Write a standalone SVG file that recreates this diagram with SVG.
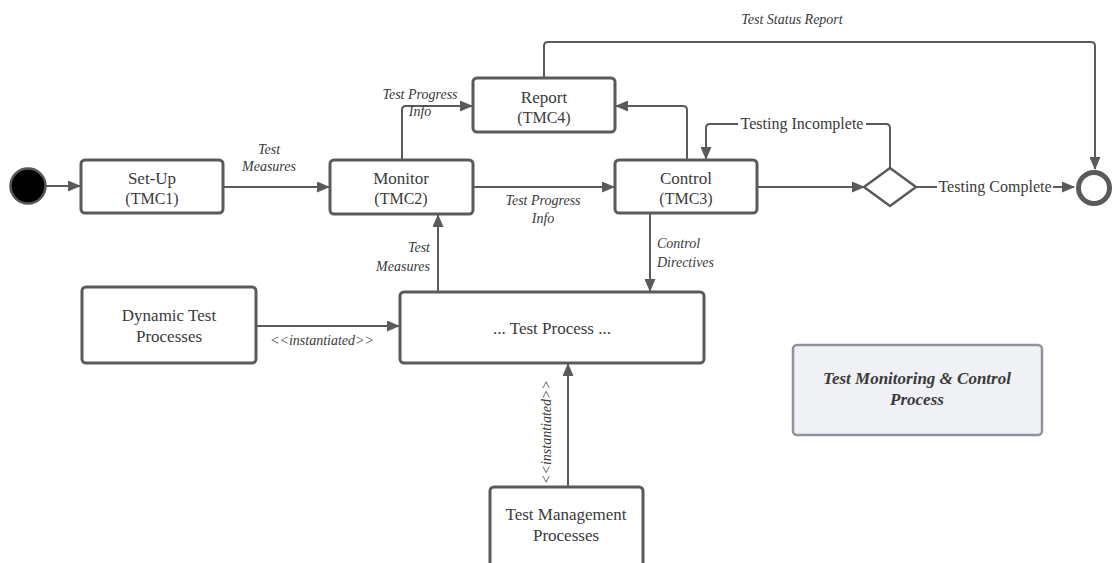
<svg xmlns="http://www.w3.org/2000/svg" width="1112" height="563" viewBox="0 0 1112 563">
  <style>
    .box { fill: #ffffff; stroke: #5a5a5a; stroke-width: 3; }
    .legend { fill: #f0f1f4; stroke: #8e939b; stroke-width: 2.5; }
    .edge { fill: none; stroke: #5a5a5a; stroke-width: 2; stroke-linejoin: round; }
    .nt { font-family: "Liberation Serif", "DejaVu Serif", serif; font-size: 17px; fill: #3a3a3a; text-anchor: middle; }
    .sub { font-size: 16px; }
    .lt { font-family: "Liberation Serif", "DejaVu Serif", serif; font-size: 14px; font-style: italic; fill: #3a3a3a; }
    .gt { font-family: "Liberation Serif", "DejaVu Serif", serif; font-size: 16px; fill: #3a3a3a; }
  </style>
  <defs>
    <marker id="arrow" viewBox="0 0 13 11" refX="12" refY="5.5" markerWidth="13" markerHeight="11" markerUnits="userSpaceOnUse" orient="auto">
      <path d="M0,0 L13,5.5 L0,11 Z" fill="#5a5a5a"/>
    </marker>
  </defs>

  <!-- connectors -->
  <g id="connectors">
    <path class="edge" d="M46,186 H80" marker-end="url(#arrow)"/>
    <path class="edge" d="M223,187 H329" marker-end="url(#arrow)"/>
    <path class="edge" d="M402,160 V110 Q402,106 406,106 H472" marker-end="url(#arrow)"/>
    <path class="edge" d="M473,187 H614" marker-end="url(#arrow)"/>
    <path class="edge" d="M687,160 V110 Q687,106 683,106 H616" marker-end="url(#arrow)"/>
    <path class="edge" d="M757,187 H864" marker-end="url(#arrow)"/>
    <path class="edge" d="M890,167 V128 Q890,124 886,124 H710 Q706,124 706,128 V159" marker-end="url(#arrow)"/>
    <path class="edge" d="M916,187 H1074" marker-end="url(#arrow)"/>
    <path class="edge" d="M544,78 V46 Q544,42 548,42 H1091 Q1095,42 1095,46 V169" marker-end="url(#arrow)"/>
    <path class="edge" d="M438,292 V215" marker-end="url(#arrow)"/>
    <path class="edge" d="M650,213 V291" marker-end="url(#arrow)"/>
    <path class="edge" d="M256,326 H399" marker-end="url(#arrow)"/>
    <path class="edge" d="M568,487 V364" marker-end="url(#arrow)"/>

    <!-- connector labels -->
    <text class="lt" x="269" y="154" text-anchor="middle">Test</text>
    <text class="lt" x="269" y="171" text-anchor="middle">Measures</text>
    <text class="lt" x="420" y="99" text-anchor="middle">Test Progress</text>
    <text class="lt" x="420" y="116" text-anchor="middle">Info</text>
    <text class="lt" x="543" y="205" text-anchor="middle">Test  Progress</text>
    <text class="lt" x="543" y="223" text-anchor="middle">Info</text>
    <text class="lt" x="792" y="24" text-anchor="middle">Test Status Report</text>
    <text class="lt" x="430" y="252" text-anchor="end">Test</text>
    <text class="lt" x="430" y="271" text-anchor="end">Measures</text>
    <text class="lt" x="657" y="248">Control</text>
    <text class="lt" x="657" y="267">Directives</text>
    <text class="lt" x="322" y="345" text-anchor="middle">&lt;&lt;instantiated&gt;&gt;</text>
    <text class="lt" transform="translate(551,432) rotate(-90)" text-anchor="middle">&lt;&lt;instantiated&gt;&gt;</text>
    <rect x="738" y="115" width="128" height="18" fill="#ffffff"/>
    <text class="gt" x="802" y="129" text-anchor="middle">Testing Incomplete</text>
    <rect x="937" y="178" width="116" height="18" fill="#ffffff"/>
    <text class="gt" x="995" y="192" text-anchor="middle">Testing Complete</text>
  </g>

  <g id="start">
    <circle cx="28" cy="186" r="17.5" fill="#000000" stroke="#555555" stroke-width="2.5"/>
  </g>

  <g id="setup">
    <rect class="box" x="81" y="160" width="142" height="53" rx="4"/>
    <text class="nt" x="152" y="184">Set-Up</text>
    <text class="nt sub" x="152" y="204">(TMC1)</text>
  </g>

  <g id="monitor">
    <rect class="box" x="330" y="160" width="143" height="54" rx="4"/>
    <text class="nt" x="401" y="184">Monitor</text>
    <text class="nt sub" x="401" y="204">(TMC2)</text>
  </g>

  <g id="report">
    <rect class="box" x="473" y="78" width="142" height="54" rx="4"/>
    <text class="nt" x="544" y="103">Report</text>
    <text class="nt sub" x="544" y="123">(TMC4)</text>
  </g>

  <g id="control">
    <rect class="box" x="615" y="160" width="142" height="53" rx="4"/>
    <text class="nt" x="686" y="184">Control</text>
    <text class="nt sub" x="686" y="204">(TMC3)</text>
  </g>

  <g id="decision">
    <path d="M890,168 L916,187 L890,206 L864,187 Z" fill="#ffffff" stroke="#5a5a5a" stroke-width="2.5" stroke-linejoin="round"/>
  </g>

  <g id="end">
    <circle cx="1094" cy="188" r="15.5" fill="#ffffff" stroke="#5a5a5a" stroke-width="5"/>
  </g>

  <g id="dynamic">
    <rect class="box" x="82" y="287" width="174" height="76" rx="4"/>
    <text class="nt" x="169" y="321">Dynamic Test</text>
    <text class="nt" x="169" y="342">Processes</text>
  </g>

  <g id="testprocess">
    <rect class="box" x="400" y="292" width="304" height="71" rx="4"/>
    <text class="nt" x="552" y="334">... Test Process ...</text>
  </g>

  <g id="management">
    <rect class="box" x="490" y="487" width="153" height="80" rx="4"/>
    <text class="nt" x="566" y="520">Test Management</text>
    <text class="nt" x="566" y="541">Processes</text>
  </g>

  <g id="legend">
    <rect class="legend" x="793" y="345" width="249" height="90" rx="4"/>
    <text class="nt" x="917" y="384" font-weight="bold" font-style="italic">Test Monitoring &amp; Control</text>
    <text class="nt" x="917" y="405" font-weight="bold" font-style="italic">Process</text>
  </g>
</svg>
